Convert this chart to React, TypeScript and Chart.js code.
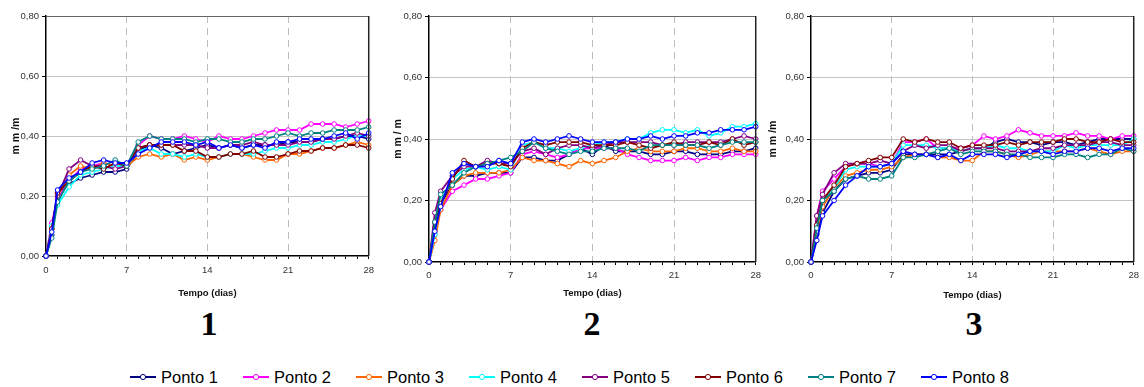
import React, { useEffect, useRef } from 'react';
import { Chart, registerables } from 'chart.js';

Chart.register(...registerables);

// ---------- data ----------
const days = [0, 0.5, 1, 2, 3, 4, 5, 6, 7, 8, 9, 10, 11, 12, 13, 14, 15, 16, 17, 18, 19, 20, 21, 22, 23, 24, 25, 26, 27, 28];
const xTickLabels = [0, 7, 14, 21, 28];
const weekLines = [7, 14, 21];
const yMin = 0;
const yMax = 0.8;
const yStep = 0.2;
const seriesNames = ['Ponto 1', 'Ponto 2', 'Ponto 3', 'Ponto 4', 'Ponto 5', 'Ponto 6', 'Ponto 7', 'Ponto 8'];
const seriesColors = ['#000080', '#FF00FF', '#FF6600', '#00FFFF', '#800080', '#800000', '#008080', '#0000FF'];
const panelLabels = ['1', '2', '3'];
const xTitle = 'Tempo (dias)';
const yTitles = ['m m /m', 'm m / m', 'm m /m'];

// Panel 1
const c1P1 = [0, 0.07, 0.21, 0.24, 0.26, 0.27, 0.28, 0.28, 0.29, 0.35, 0.37, 0.36, 0.34, 0.35, 0.36, 0.37, 0.36, 0.37, 0.36, 0.37, 0.37, 0.37, 0.38, 0.38, 0.38, 0.39, 0.39, 0.40, 0.40, 0.39];
const c1P2 = [0, 0.11, 0.19, 0.25, 0.29, 0.30, 0.31, 0.30, 0.30, 0.37, 0.40, 0.39, 0.39, 0.40, 0.39, 0.38, 0.40, 0.39, 0.39, 0.40, 0.41, 0.42, 0.42, 0.42, 0.44, 0.44, 0.44, 0.43, 0.44, 0.45];
const c1P3 = [0, 0.09, 0.20, 0.27, 0.30, 0.29, 0.31, 0.30, 0.30, 0.33, 0.34, 0.33, 0.34, 0.32, 0.33, 0.32, 0.33, 0.34, 0.34, 0.33, 0.32, 0.32, 0.34, 0.34, 0.35, 0.36, 0.36, 0.37, 0.38, 0.37];
const c1P4 = [0, 0.10, 0.17, 0.23, 0.27, 0.28, 0.29, 0.30, 0.30, 0.35, 0.36, 0.34, 0.34, 0.33, 0.34, 0.33, 0.33, 0.34, 0.34, 0.34, 0.35, 0.36, 0.36, 0.37, 0.37, 0.38, 0.38, 0.39, 0.40, 0.40];
const c1P5 = [0, 0.09, 0.20, 0.29, 0.32, 0.30, 0.30, 0.29, 0.30, 0.36, 0.37, 0.37, 0.37, 0.37, 0.37, 0.36, 0.36, 0.37, 0.37, 0.38, 0.37, 0.37, 0.37, 0.38, 0.38, 0.39, 0.39, 0.40, 0.41, 0.40];
const c1P6 = [0, 0.09, 0.21, 0.25, 0.28, 0.30, 0.29, 0.31, 0.30, 0.36, 0.37, 0.37, 0.37, 0.35, 0.35, 0.33, 0.33, 0.34, 0.34, 0.35, 0.33, 0.33, 0.34, 0.35, 0.35, 0.36, 0.36, 0.37, 0.37, 0.36];
const c1P7 = [0, 0.06, 0.18, 0.25, 0.28, 0.29, 0.30, 0.32, 0.30, 0.38, 0.40, 0.39, 0.39, 0.39, 0.38, 0.39, 0.39, 0.38, 0.38, 0.39, 0.39, 0.40, 0.41, 0.40, 0.41, 0.41, 0.42, 0.42, 0.42, 0.43];
const c1P8 = [0, 0.08, 0.22, 0.26, 0.28, 0.31, 0.32, 0.31, 0.31, 0.34, 0.36, 0.38, 0.38, 0.38, 0.37, 0.38, 0.36, 0.37, 0.36, 0.37, 0.36, 0.38, 0.38, 0.39, 0.39, 0.39, 0.40, 0.41, 0.39, 0.41];

// Panel 2
const c2P1 = [0, 0.09, 0.19, 0.25, 0.28, 0.28, 0.29, 0.29, 0.29, 0.34, 0.34, 0.33, 0.33, 0.35, 0.37, 0.35, 0.38, 0.36, 0.36, 0.36, 0.35, 0.35, 0.36, 0.36, 0.35, 0.35, 0.35, 0.36, 0.36, 0.37];
const c2P2 = [0, 0.11, 0.17, 0.23, 0.25, 0.27, 0.27, 0.28, 0.29, 0.35, 0.36, 0.35, 0.34, 0.35, 0.37, 0.37, 0.37, 0.37, 0.35, 0.34, 0.33, 0.33, 0.33, 0.34, 0.33, 0.34, 0.34, 0.35, 0.35, 0.35];
const c2P3 = [0, 0.07, 0.17, 0.25, 0.28, 0.29, 0.29, 0.29, 0.30, 0.34, 0.33, 0.33, 0.32, 0.31, 0.33, 0.32, 0.33, 0.34, 0.36, 0.37, 0.36, 0.36, 0.36, 0.37, 0.37, 0.36, 0.36, 0.37, 0.36, 0.36];
const c2P4 = [0, 0.09, 0.20, 0.27, 0.30, 0.31, 0.30, 0.31, 0.30, 0.38, 0.39, 0.37, 0.37, 0.36, 0.37, 0.38, 0.39, 0.39, 0.40, 0.40, 0.42, 0.43, 0.43, 0.42, 0.43, 0.41, 0.42, 0.44, 0.44, 0.45];
const c2P5 = [0, 0.16, 0.23, 0.28, 0.31, 0.31, 0.33, 0.32, 0.32, 0.36, 0.37, 0.35, 0.37, 0.38, 0.38, 0.37, 0.38, 0.39, 0.39, 0.39, 0.39, 0.38, 0.38, 0.39, 0.39, 0.39, 0.39, 0.40, 0.41, 0.40];
const c2P6 = [0, 0.13, 0.19, 0.27, 0.33, 0.31, 0.32, 0.32, 0.31, 0.37, 0.39, 0.38, 0.39, 0.39, 0.39, 0.38, 0.38, 0.38, 0.39, 0.38, 0.37, 0.38, 0.39, 0.38, 0.38, 0.39, 0.38, 0.40, 0.38, 0.39];
const c2P7 = [0, 0.13, 0.22, 0.25, 0.29, 0.31, 0.32, 0.33, 0.34, 0.36, 0.39, 0.37, 0.36, 0.35, 0.36, 0.36, 0.37, 0.37, 0.37, 0.36, 0.38, 0.38, 0.38, 0.38, 0.38, 0.37, 0.38, 0.39, 0.39, 0.39];
const c2P8 = [0, 0.10, 0.18, 0.29, 0.32, 0.31, 0.31, 0.33, 0.32, 0.39, 0.40, 0.39, 0.40, 0.41, 0.40, 0.39, 0.39, 0.39, 0.40, 0.40, 0.41, 0.40, 0.41, 0.41, 0.42, 0.42, 0.43, 0.43, 0.43, 0.44];

// Panel 3
const c3P1 = [0, 0.09, 0.16, 0.23, 0.27, 0.28, 0.29, 0.29, 0.30, 0.35, 0.35, 0.35, 0.35, 0.35, 0.36, 0.37, 0.37, 0.39, 0.40, 0.39, 0.39, 0.38, 0.39, 0.39, 0.38, 0.39, 0.40, 0.40, 0.40, 0.40];
const c3P2 = [0, 0.15, 0.23, 0.27, 0.31, 0.32, 0.32, 0.31, 0.32, 0.39, 0.39, 0.40, 0.37, 0.37, 0.37, 0.38, 0.41, 0.40, 0.41, 0.43, 0.42, 0.41, 0.41, 0.41, 0.42, 0.41, 0.41, 0.40, 0.41, 0.41];
const c3P3 = [0, 0.10, 0.18, 0.24, 0.28, 0.29, 0.30, 0.30, 0.31, 0.34, 0.35, 0.35, 0.34, 0.34, 0.33, 0.33, 0.36, 0.36, 0.35, 0.34, 0.35, 0.36, 0.36, 0.36, 0.36, 0.37, 0.36, 0.35, 0.36, 0.36];
const c3P4 = [0, 0.11, 0.20, 0.24, 0.30, 0.31, 0.31, 0.31, 0.32, 0.38, 0.38, 0.38, 0.37, 0.37, 0.36, 0.37, 0.37, 0.38, 0.37, 0.37, 0.36, 0.36, 0.36, 0.38, 0.37, 0.38, 0.38, 0.38, 0.38, 0.40];
const c3P5 = [0, 0.15, 0.22, 0.29, 0.32, 0.32, 0.32, 0.33, 0.32, 0.36, 0.38, 0.37, 0.38, 0.38, 0.36, 0.37, 0.37, 0.37, 0.36, 0.36, 0.36, 0.37, 0.37, 0.38, 0.38, 0.38, 0.39, 0.39, 0.38, 0.38];
const c3P6 = [0, 0.12, 0.20, 0.25, 0.31, 0.32, 0.33, 0.34, 0.34, 0.40, 0.39, 0.40, 0.39, 0.39, 0.37, 0.38, 0.38, 0.38, 0.39, 0.38, 0.39, 0.39, 0.39, 0.40, 0.40, 0.39, 0.39, 0.40, 0.39, 0.39];
const c3P7 = [0, 0.11, 0.20, 0.23, 0.27, 0.28, 0.27, 0.27, 0.28, 0.34, 0.34, 0.35, 0.36, 0.37, 0.35, 0.36, 0.36, 0.36, 0.35, 0.35, 0.34, 0.34, 0.34, 0.35, 0.35, 0.34, 0.35, 0.35, 0.37, 0.36];
const c3P8 = [0, 0.07, 0.15, 0.20, 0.25, 0.28, 0.31, 0.31, 0.32, 0.36, 0.35, 0.35, 0.34, 0.35, 0.33, 0.35, 0.35, 0.35, 0.34, 0.35, 0.36, 0.36, 0.35, 0.36, 0.36, 0.37, 0.37, 0.36, 0.37, 0.37];

const panelValues = [
  [c1P1, c1P2, c1P3, c1P4, c1P5, c1P6, c1P7, c1P8],
  [c2P1, c2P2, c2P3, c2P4, c2P5, c2P6, c2P7, c2P8],
  [c3P1, c3P2, c3P3, c3P4, c3P5, c3P6, c3P7, c3P8],
];

// ---------- layout (positions / sizes only) ----------
const panelLayout = [
  { left: 0, width: 380, yAxisWidth: 46, padRight: 8, xAxisHeight: 49, xTitlePad: 6, yTitlePad: 10, xTickPad: 6 },
  { left: 380, width: 386, yAxisWidth: 49, padRight: 10, xAxisHeight: 43, xTitlePad: 6, yTitlePad: 12, xTickPad: 5 },
  { left: 760, width: 384, yAxisWidth: 51, padRight: 7, xAxisHeight: 43, xTitlePad: 4, yTitlePad: 7, xTickPad: 5 },
];
const CANVAS_H = 305;
const PLOT_TOP = 16;

const tickFont = { family: '"Liberation Sans Narrow", "Arial Narrow", Arial, sans-serif', size: 9.5 };
const xTitleFont = { family: '"Liberation Sans Narrow", "Arial Narrow", Arial, sans-serif', size: 9.5, weight: 'bold' as const };
const yTitleFont = { family: 'Arial, "Liberation Sans", sans-serif', size: 10.5, weight: 'bold' as const };

const framePlugin = {
  id: 'frame',
  afterDatasetsDraw(chart: any) {
    const { ctx, chartArea } = chart;
    ctx.save();
    ctx.strokeStyle = '#222';
    ctx.lineWidth = 1.5;
    ctx.beginPath();
    ctx.moveTo(chartArea.right, chartArea.top);
    ctx.lineTo(chartArea.right, chartArea.bottom);
    ctx.stroke();
    ctx.restore();
  },
};

function Panel({ index }: { index: number }) {
  const ref = useRef<HTMLCanvasElement>(null);
  const lay = panelLayout[index];
  useEffect(() => {
    const values = panelValues[index];
    const chart = new Chart(ref.current as HTMLCanvasElement, {
      type: 'line',
      data: {
        datasets: seriesNames.map((name, i) => ({
          label: name,
          data: days.map((d, j) => ({ x: d, y: values[i][j] })),
          borderColor: seriesColors[i],
          backgroundColor: '#ffffff',
          pointBackgroundColor: '#ffffff',
          pointBorderColor: seriesColors[i],
          pointRadius: 2.3,
          pointBorderWidth: 1,
          borderWidth: 1.8,
          tension: 0,
          clip: false as any,
          order: seriesNames.length - i,
        })),
      },
      options: {
        animation: false,
        responsive: false,
        events: [],
        layout: { padding: { left: 0, top: PLOT_TOP, right: lay.padRight, bottom: 0 } },
        plugins: { legend: { display: false }, tooltip: { enabled: false } },
        scales: {
          x: {
            type: 'linear',
            min: 0,
            max: 28,
            afterFit: (s: any) => { s.height = lay.xAxisHeight; },
            ticks: {
              stepSize: 1,
              autoSkip: false,
              maxRotation: 0,
              minRotation: 0,
              padding: lay.xTickPad,
              color: '#333',
              font: tickFont,
              callback: (v: any) => (xTickLabels.includes(Number(v)) ? String(v) : ''),
            },
            grid: {
              color: (c: any) => (c.tick && weekLines.includes(c.tick.value) ? '#bdbdbd' : 'rgba(0,0,0,0)'),
              lineWidth: 1,
              tickColor: '#000',
              tickLength: 3,
              tickWidth: 1,
            },
            border: { display: true, color: '#000', width: 1.5, dash: [7, 5] },
            title: { display: true, text: xTitle, color: '#111', font: xTitleFont, padding: { top: 0, bottom: lay.xTitlePad } },
          },
          y: {
            min: yMin,
            max: yMax,
            afterFit: (s: any) => { s.width = lay.yAxisWidth; },
            ticks: {
              stepSize: yStep,
              padding: 3,
              color: '#333',
              font: tickFont,
              callback: (v: any) => Number(v).toFixed(2).replace('.', ','),
            },
            grid: {
              color: (c: any) => {
                const v = c.tick ? c.tick.value : 0;
                if (Math.abs(v - yMin) < 1e-6) return 'rgba(0,0,0,0)';
                if (Math.abs(v - yMax) < 1e-6) return '#666';
                return '#c4c4c4';
              },
              lineWidth: 1,
              tickColor: '#000',
              tickLength: 4,
              tickWidth: 1,
            },
            border: { display: true, color: '#000', width: 1.5 },
            title: { display: true, text: yTitles[index], color: '#111', font: yTitleFont, padding: { top: lay.yTitlePad, bottom: 0 } },
          },
        },
      },
      plugins: [framePlugin],
    } as any);
    return () => chart.destroy();
  }, [index]);
  return (
    <canvas
      ref={ref}
      width={lay.width}
      height={CANVAS_H}
      style={{ position: 'absolute', left: lay.left, top: 0, width: lay.width, height: CANVAS_H }}
    />
  );
}

const panelCenters = [209, 592, 974];
const legendStart = 130;
const legendStep = 113;

export default function App() {
  return (
    <div style={{ position: 'fixed', left: 0, top: 0, width: 1144, height: 387, background: '#fff', overflow: 'hidden' }}>
      {panelLabels.map((_, i) => (
        <Panel key={i} index={i} />
      ))}
      {panelLabels.map((lab, i) => (
        <div
          key={'lab' + i}
          style={{
            position: 'absolute',
            left: panelCenters[i],
            top: 307,
            transform: 'translateX(-50%)',
            fontFamily: '"Liberation Serif", "Times New Roman", serif',
            fontWeight: 'bold',
            fontSize: 34,
            lineHeight: '34px',
            color: '#000',
          }}
        >
          {lab}
        </div>
      ))}
      {seriesNames.map((name, i) => (
        <div
          key={'leg' + i}
          style={{
            position: 'absolute',
            left: legendStart + i * legendStep,
            top: 367,
            height: 20,
            display: 'flex',
            alignItems: 'center',
            whiteSpace: 'nowrap',
          }}
        >
          <svg width={26} height={10} style={{ display: 'block' }}>
            <line x1={0} y1={5} x2={26} y2={5} stroke={seriesColors[i]} strokeWidth={2} />
            <circle cx={13} cy={5} r={2.6} fill="#fff" stroke={seriesColors[i]} strokeWidth={1} />
          </svg>
          <span
            style={{
              marginLeft: 5,
              fontFamily: '"Liberation Sans", Arial, sans-serif',
              fontSize: 16.5,
              color: '#000',
              lineHeight: '20px',
            }}
          >
            {name}
          </span>
        </div>
      ))}
    </div>
  );
}
